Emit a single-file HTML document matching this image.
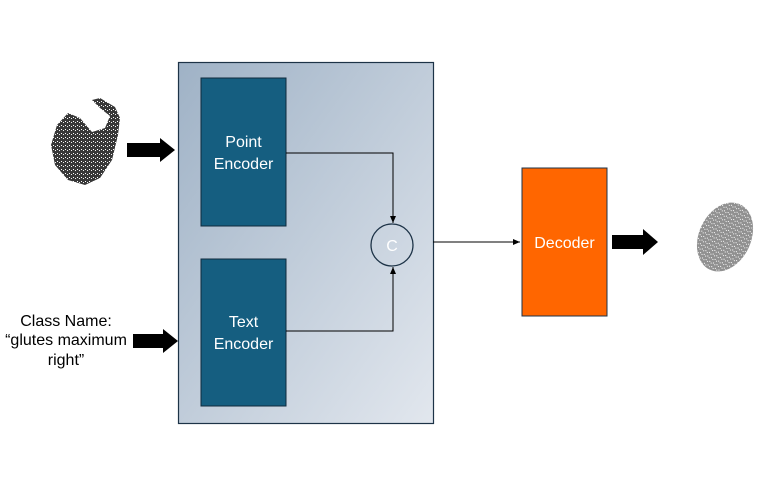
<!DOCTYPE html>
<html><head><style>body{margin:0;background:#fff}</style></head><body>
<svg width="783" height="480" xmlns="http://www.w3.org/2000/svg" font-family="Liberation Sans, sans-serif">
<defs>
<linearGradient id="g" x1="0" y1="0" x2="1" y2="1">
<stop offset="0" stop-color="#9fb2c6"/><stop offset="1" stop-color="#e2e7ee"/></linearGradient>
<pattern id="dots" width="4" height="4" patternUnits="userSpaceOnUse">
<rect width="4" height="4" fill="#222"/><rect x="1" y="1" width="1" height="1" fill="#fff"/><rect x="3" y="2" width="1" height="1" fill="#eee"/></pattern>
<marker id="a" markerWidth="8" markerHeight="8" refX="7" refY="4" orient="auto" markerUnits="userSpaceOnUse"><path d="M0,1 L7,4 L0,7z" fill="#000"/></marker>
</defs>
<rect x="178.5" y="62.5" width="255" height="361" fill="url(#g)" stroke="#1d3347" stroke-width="1.2"/>
<rect x="201" y="78" width="85" height="148" fill="#155e80" stroke="#0f2a3d"/>
<text x="243.5" y="147" fill="#fff" font-size="16" text-anchor="middle">Point</text>
<text x="243.5" y="169" fill="#fff" font-size="16" text-anchor="middle">Encoder</text>
<rect x="201" y="259" width="85" height="147" fill="#155e80" stroke="#0f2a3d"/>
<text x="243.5" y="327" fill="#fff" font-size="16" text-anchor="middle">Text</text>
<text x="243.5" y="349" fill="#fff" font-size="16" text-anchor="middle">Encoder</text>
<circle cx="392" cy="245" r="21" fill="none" stroke="#1d3347" stroke-width="1.3"/>
<text x="392" y="251" fill="#fff" font-size="16" text-anchor="middle">C</text>
<path d="M286,153 H393 V223" fill="none" stroke="#000" marker-end="url(#a)"/>
<path d="M286,331 H393 V267" fill="none" stroke="#000" marker-end="url(#a)"/>
<path d="M433,242 H520" fill="none" stroke="#000" marker-end="url(#a)"/>
<rect x="522" y="168" width="85" height="148" fill="#ff6600" stroke="#1d3347"/>
<text x="564.5" y="248" fill="#fff" font-size="16" text-anchor="middle">Decoder</text>
<path d="M127,143 H160 V138 L175,150 L160,162 V157 H127z" fill="#000"/>
<path d="M133,334 H163 V329 L178,341 L163,353 V348 H133z" fill="#000"/>
<path d="M612,235 H643 V229 L658,242 L643,255 V249 H612z" fill="#000"/>
<path d="M92,100 L100,98 L115,107 L120,118 L118,135 L112,160 L100,178 L85,185 L68,180 L55,165 L51,145 L57,125 L68,113 L80,118 L92,132 L105,128 L110,116 L100,108 Z" fill="url(#dots)" opacity="0.9"/>
<ellipse cx="725" cy="237" rx="26" ry="36" transform="rotate(25 725 237)" fill="url(#dots)" opacity="0.5"/>
<text x="66" y="326" font-size="16" text-anchor="middle">Class Name:</text>
<text x="66" y="345" font-size="16" text-anchor="middle">“glutes maximum</text>
<text x="66" y="365" font-size="16" text-anchor="middle">right”</text>
</svg>
</body></html>
